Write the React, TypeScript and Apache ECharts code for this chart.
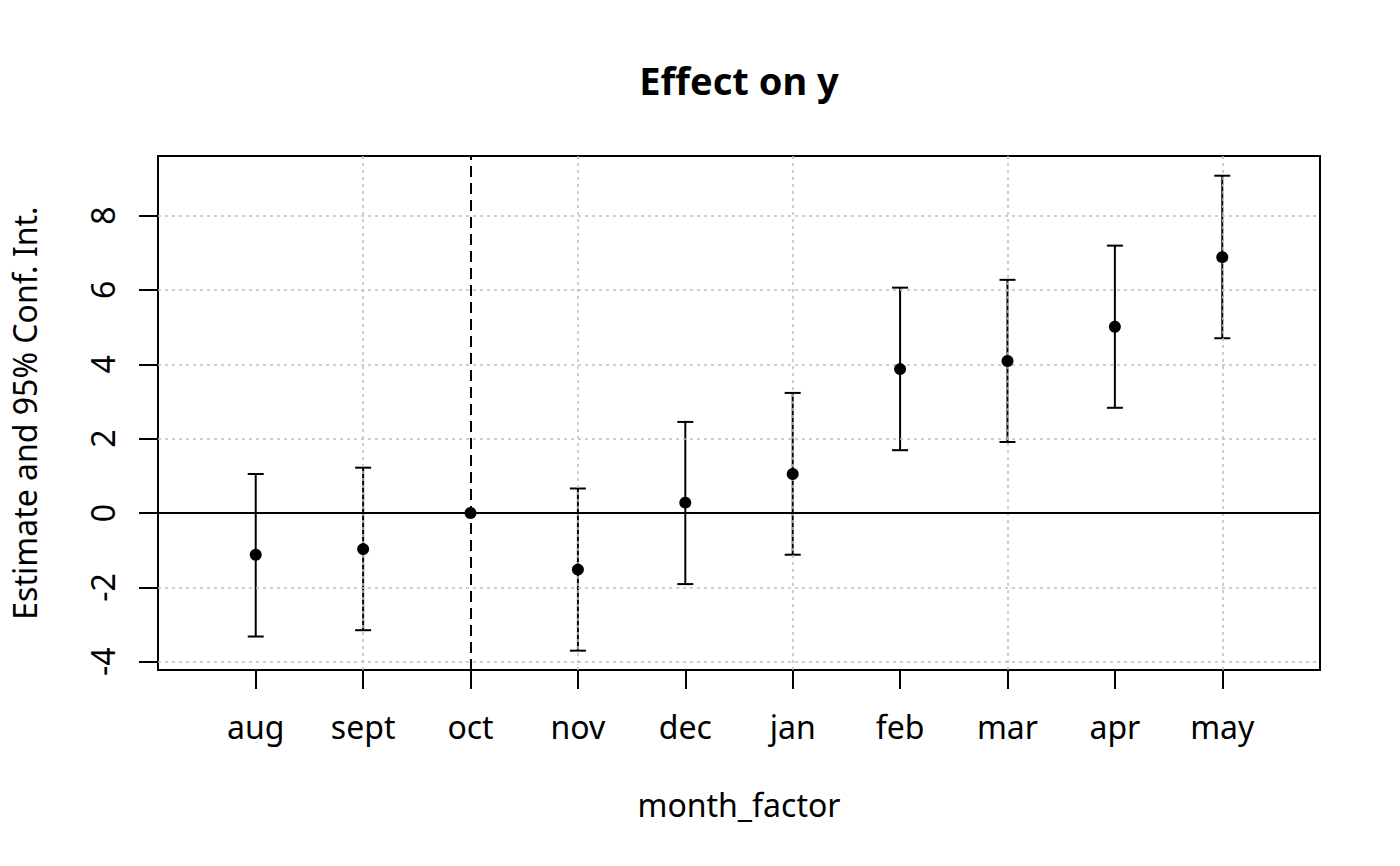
import React, { useEffect, useRef } from "react";
import * as echarts from "echarts";

const months = ["aug", "sept", "oct", "nov", "dec", "jan", "feb", "mar", "apr", "may"];
const estimates = [-1.12, -0.97, 0, -1.52, 0.28, 1.05, 3.87, 4.09, 5.01, 6.88];
const ciLow: (number | null)[] = [-3.32, -3.15, null, -3.7, -1.91, -1.12, 1.69, 1.91, 2.83, 4.7];
const ciHigh: (number | null)[] = [1.05, 1.22, null, 0.66, 2.45, 3.23, 6.06, 6.27, 7.19, 9.07];
const yTicks = [-4, -2, 0, 2, 4, 6, 8];
const yGrid = [-4, -2, 2, 4, 6, 8];
const xGrid = [2, 4, 6, 8, 10];
const refPosition = 3;
const titleText = "Effect on y";
const xName = "month_factor";
const yName = "Estimate and 95% Conf. Int.";

const FONT = "Noto Sans";
const FS = 32;

export default function App() {
  const ref = useRef<HTMLDivElement>(null);
  useEffect(() => {
    if (!ref.current) return;
    const chart = echarts.init(ref.current, null, { renderer: "svg" });
    const positions = months.map((_, i) => i + 1);
    const xTicks = positions;
    const points = positions.map((p, i) => [p, estimates[i]]);
    const bars = positions
      .map((p, i) => [p, ciLow[i], ciHigh[i]])
      .filter((d) => d[1] !== null && d[2] !== null);
    const gridStyle = { color: "#bebebe", width: 1.5, type: [3, 4] as number[] };

    chart.setOption({
      animation: false,
      backgroundColor: "#ffffff",
      graphic: [
        {
          type: "text",
          x: 739,
          y: 80,
          style: {
            text: titleText,
            font: `bold 38px "${FONT}"`,
            fill: "#000",
            textAlign: "center",
            textVerticalAlign: "middle",
          },
        },
      ],
      grid: {
        left: 157,
        top: 156,
        width: 1163,
        height: 514,
        show: true,
        borderColor: "#000",
        borderWidth: 2,
        backgroundColor: "transparent",
      },
      xAxis: {
        type: "value",
        min: 0.09,
        max: 10.91,
        name: xName,
        nameLocation: "middle",
        nameGap: 118,
        nameTextStyle: { fontSize: FS, fontFamily: FONT, color: "#000" },
        axisLine: { show: false, onZero: false },
        splitLine: { show: false },
        axisTick: { show: true, length: 19, customValues: xTicks, lineStyle: { color: "#000", width: 2 } },
        axisLabel: {
          customValues: xTicks,
          formatter: (v: number) => months[Math.round(v) - 1] ?? "",
          fontSize: FS,
          fontFamily: FONT,
          color: "#000",
          margin: 40,
        },
      },
      yAxis: {
        type: "value",
        min: -4.22,
        max: 9.6,
        name: yName,
        nameLocation: "middle",
        nameGap: 118,
        nameRotate: 90,
        nameTextStyle: { fontSize: FS, fontFamily: FONT, color: "#000" },
        axisLine: { show: false, onZero: false },
        splitLine: { show: false },
        axisTick: { show: true, length: 19, customValues: yTicks, lineStyle: { color: "#000", width: 2 } },
        axisLabel: {
          customValues: yTicks,
          rotate: 90,
          fontSize: FS,
          fontFamily: FONT,
          color: "#000",
          margin: 40,
        },
      },
      series: [
        {
          type: "line",
          data: [],
          silent: true,
          z: 1,
          markLine: {
            silent: true,
            symbol: "none",
            label: { show: false },
            animation: false,
            data: [
              ...yGrid.map((v) => ({ yAxis: v, lineStyle: gridStyle })),
              ...xGrid.map((v) => ({ xAxis: v, lineStyle: gridStyle })),
            ],
          },
        },
        {
          type: "line",
          data: [],
          silent: true,
          z: 3,
          markLine: {
            silent: true,
            symbol: "none",
            label: { show: false },
            animation: false,
            data: [
              { yAxis: 0, lineStyle: { color: "#000", width: 2, type: "solid" } },
              { xAxis: refPosition, lineStyle: { color: "#000", width: 2, type: [11, 6] } },
            ],
          },
        },
        {
          type: "custom",
          z: 4,
          data: bars,
          encode: { x: 0, y: [1, 2] },
          renderItem: (params: any, api: any) => {
            const x = api.value(0);
            const lo = api.coord([x, api.value(1)]);
            const hi = api.coord([x, api.value(2)]);
            const hw = 8;
            const st = { stroke: "#000", lineWidth: 2 };
            return {
              type: "group",
              children: [
                { type: "line", shape: { x1: lo[0], y1: lo[1], x2: hi[0], y2: hi[1] }, style: st },
                { type: "line", shape: { x1: lo[0] - hw, y1: lo[1], x2: lo[0] + hw, y2: lo[1] }, style: st },
                { type: "line", shape: { x1: hi[0] - hw, y1: hi[1], x2: hi[0] + hw, y2: hi[1] }, style: st },
              ],
            };
          },
        },
        {
          type: "scatter",
          z: 5,
          data: points,
          symbol: "circle",
          symbolSize: 12,
          itemStyle: { color: "#000", opacity: 1 },
        },
      ],
    });
    return () => chart.dispose();
  }, []);
  return (
    <div
      ref={ref}
      style={{ position: "absolute", left: 0, top: 0, width: 1400, height: 866 }}
    />
  );
}
